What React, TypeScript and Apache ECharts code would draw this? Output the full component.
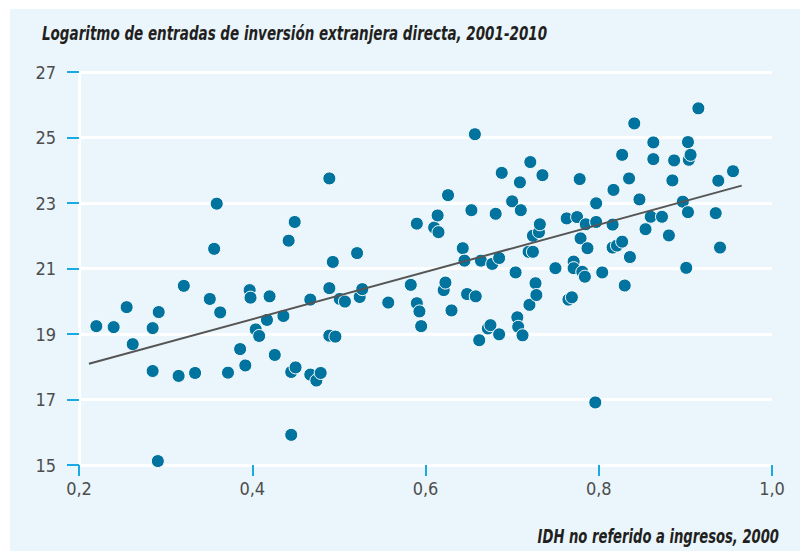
import React, { useEffect, useRef } from "react";
import * as echarts from "echarts";

const TITLE = "Logaritmo de entradas de inversión extranjera directa, 2001-2010";
const X_NAME = "IDH no referido a ingresos, 2000";

const X_MIN = 0.2;
const X_MAX = 1.0;
const X_STEP = 0.2;
const Y_MIN = 15;
const Y_MAX = 27;
const Y_STEP = 2;

// IDH no referido a ingresos, 2000
const idh = [
  0.220, 0.240, 0.255, 0.262, 0.285, 0.292, 0.285, 0.291, 0.315, 0.321,
  0.334, 0.351, 0.356, 0.359, 0.363, 0.372, 0.386, 0.392, 0.397, 0.398,
  0.404, 0.408, 0.417, 0.420, 0.426, 0.436, 0.442, 0.445, 0.445, 0.450,
  0.449, 0.467, 0.467, 0.474, 0.479, 0.489, 0.489, 0.489, 0.493, 0.496,
  0.501, 0.507, 0.521, 0.524, 0.527, 0.557, 0.583, 0.590, 0.590, 0.593,
  0.595, 0.610, 0.614, 0.615, 0.621, 0.623, 0.626, 0.630, 0.643, 0.645,
  0.648, 0.653, 0.657, 0.658, 0.662, 0.664, 0.672, 0.675, 0.677, 0.681,
  0.685, 0.685, 0.688, 0.700, 0.704, 0.706, 0.707, 0.709, 0.710, 0.712,
  0.720, 0.719, 0.724, 0.721, 0.724, 0.727, 0.728, 0.731, 0.732, 0.735,
  0.750, 0.763, 0.765, 0.769, 0.771, 0.771, 0.775, 0.778, 0.779, 0.781,
  0.784, 0.785, 0.787, 0.797, 0.797, 0.796, 0.804, 0.816, 0.817, 0.816,
  0.821, 0.827, 0.827, 0.830, 0.835, 0.836, 0.841, 0.847, 0.854, 0.860,
  0.863, 0.863, 0.873, 0.881, 0.885, 0.887, 0.897, 0.901, 0.903, 0.903,
  0.904, 0.906, 0.915, 0.935, 0.938, 0.940, 0.955,
];

// Logaritmo de entradas de IED, 2001-2010
const ied = [
  19.24, 19.21, 19.82, 18.69, 19.18, 19.67, 17.87, 15.12, 17.72, 20.47,
  17.81, 20.07, 21.60, 22.98, 19.66, 17.82, 18.54, 18.04, 20.34, 20.11,
  19.14, 18.94, 19.43, 20.15, 18.36, 19.55, 21.85, 15.92, 17.84, 17.98,
  22.42, 20.05, 17.76, 17.58, 17.81, 23.75, 20.40, 18.95, 21.20, 18.92,
  20.07, 19.99, 21.47, 20.13, 20.37, 19.96, 20.50, 22.37, 19.94, 19.69,
  19.24, 22.25, 22.62, 22.11, 20.34, 20.57, 23.24, 19.72, 21.62, 21.24,
  20.22, 22.78, 25.10, 20.15, 18.81, 21.24, 19.17, 19.27, 21.14, 22.67,
  21.32, 18.99, 23.92, 23.05, 20.88, 19.51, 19.22, 23.63, 22.78, 18.96,
  19.89, 21.51, 21.51, 24.25, 22.00, 20.55, 20.19, 22.11, 22.35, 23.85,
  21.01, 22.53, 20.05, 20.12, 21.21, 21.01, 22.57, 23.73, 21.92, 20.90,
  20.75, 22.35, 21.62, 22.42, 22.99, 16.91, 20.88, 22.34, 23.40, 21.64,
  21.70, 21.82, 24.47, 20.48, 23.75, 21.35, 25.43, 23.11, 22.20, 22.58,
  24.85, 24.34, 22.58, 22.01, 23.69, 24.30, 23.04, 21.02, 24.86, 22.72,
  24.32, 24.47, 25.89, 22.69, 23.68, 21.64, 23.97,
];

// Recta de tendencia (extremos)
const trendX = [0.2115, 0.965];
const trendY = [18.09, 23.53];

const FONT = "'DejaVu Sans Condensed', 'DejaVu Sans', sans-serif";

export default function App() {
  const ref = useRef<HTMLDivElement>(null);

  useEffect(() => {
    document.body.style.margin = "0";
    if (!ref.current) return;
    const chart = echarts.init(ref.current, undefined, { renderer: "svg" });
    const points = idh.map((x, i) => [x, ied[i]]);
    const trend = trendX.map((x, i) => [x, trendY[i]]);
    chart.setOption({
      animation: false,
      backgroundColor: "#ffffff",
      graphic: [
        {
          type: "rect",
          z: -10,
          silent: true,
          shape: { x: 10, y: 9, width: 790, height: 542 },
          style: { fill: "#eaf6fc" },
        },
        {
          type: "text",
          x: 42,
          y: 33,
          scaleX: 0.79,
          style: {
            text: TITLE,
            font: `italic bold 19px ${FONT}`,
            fill: "#231f20",
            align: "left",
            verticalAlign: "middle",
          },
        },
        {
          type: "text",
          x: 779,
          y: 536,
          scaleX: 0.77,
          style: {
            text: X_NAME,
            font: `italic bold 19px ${FONT}`,
            fill: "#231f20",
            align: "right",
            verticalAlign: "middle",
          },
        },
      ],
      grid: { left: 79, right: 34, top: 72, bottom: 91, containLabel: false },
      xAxis: {
        type: "value",
        min: X_MIN,
        max: X_MAX,
        interval: X_STEP,
        axisLine: { show: true, onZero: false, lineStyle: { color: "#ffffff", width: 3 } },
        axisTick: { show: true, length: 11, lineStyle: { color: "#1aa9e3", width: 2 } },
        splitLine: { show: false },
        axisLabel: {
          margin: 14,
          color: "#4d4d4d",
          fontFamily: FONT,
          fontSize: 18,
          formatter: (v: number) => v.toFixed(1).replace(".", ","),
        },
      },
      yAxis: {
        type: "value",
        min: Y_MIN,
        max: Y_MAX,
        interval: Y_STEP,
        axisLine: { show: true, lineStyle: { color: "#ffffff", width: 3 } },
        axisTick: { show: true, length: 12, lineStyle: { color: "#1aa9e3", width: 2 } },
        splitLine: { show: true, lineStyle: { color: "#ffffff", width: 3 } },
        axisLabel: {
          margin: 23,
          color: "#4d4d4d",
          fontFamily: FONT,
          fontSize: 18,
        },
      },
      series: [
        {
          type: "scatter",
          data: points,
          symbolSize: 13,
          itemStyle: { color: "#00749e", borderColor: "#ffffff", borderWidth: 1, opacity: 1 },
          z: 3,
        },
        {
          type: "line",
          data: trend,
          symbol: "none",
          lineStyle: { color: "#555555", width: 2 },
          z: 4,
        },
      ],
    });
    return () => chart.dispose();
  }, []);

  return <div ref={ref} style={{ width: 806, height: 556 }} />;
}
